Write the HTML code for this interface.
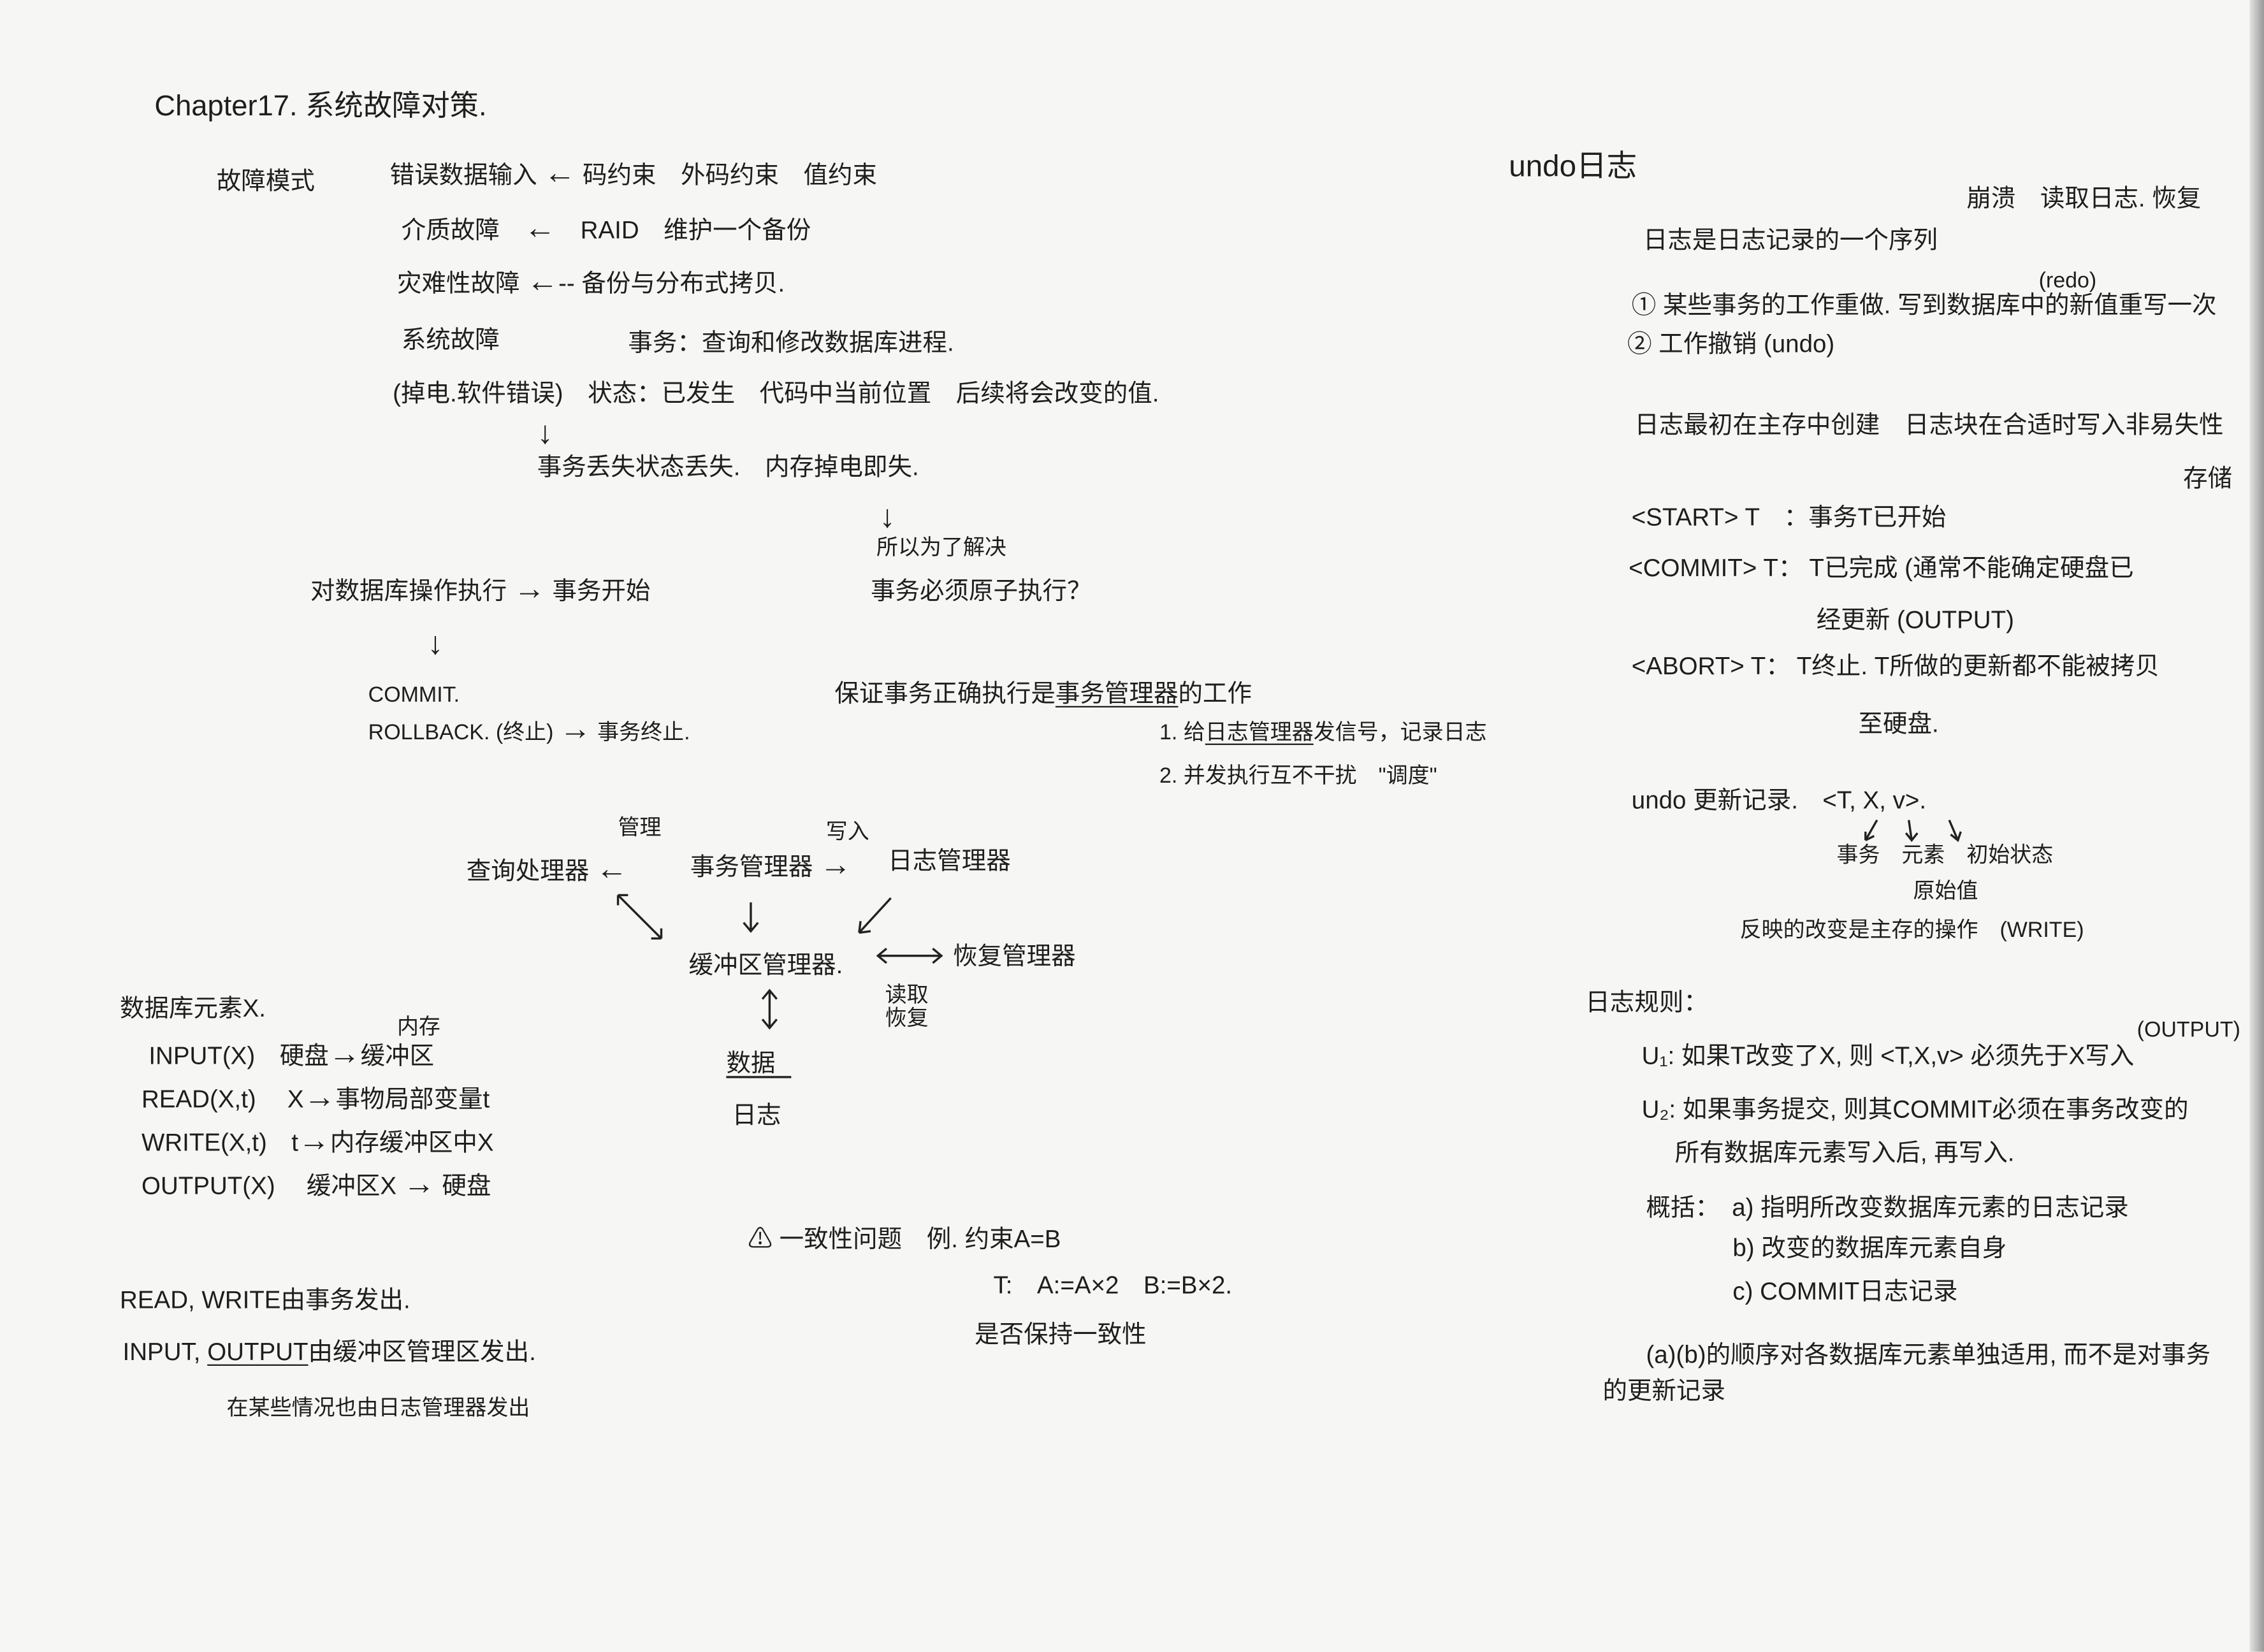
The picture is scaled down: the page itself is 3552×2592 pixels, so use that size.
<!DOCTYPE html>
<html><head><meta charset="utf-8">
<style>
html,body{margin:0;padding:0;background:#f6f6f4;}
#wrap{width:3552px;height:2592px;overflow:hidden;position:relative;background:#f6f6f4;}
#pg{position:absolute;left:0;top:0;width:1568px;height:1144px;transform:scale(2.2653);transform-origin:0 0;
font-family:"Liberation Sans","Noto Sans CJK SC",sans-serif;color:#1e1e1e;}
.t{position:absolute;white-space:nowrap;font-size:17px;line-height:1;}
.s{font-size:15px;}
.a{font-size:22px;line-height:0.7;}
.edge{position:absolute;left:1558px;top:0;width:10px;height:1144px;background:linear-gradient(90deg,#e4e4e2,#999);}
u{text-decoration:underline;text-underline-offset:3px;}
</style></head><body><div id="wrap"><div id="pg">
<div class="edge"></div>

<div class="t" style="left:107px;top:64px;font-size:20px">Chapter17. 系统故障对策.</div>
<div class="t" style="left:150px;top:117px">故障模式</div>
<div class="t" style="left:270px;top:112px">错误数据输入 <span class="a">←</span> 码约束　外码约束　值约束</div>
<div class="t" style="left:278px;top:150px">介质故障　<span class="a">←</span>　RAID　维护一个备份</div>
<div class="t" style="left:275px;top:187px">灾难性故障 <span class="a">←</span>-- 备份与分布式拷贝.</div>
<div class="t" style="left:278px;top:227px">系统故障</div>
<div class="t" style="left:435px;top:229px">事务：查询和修改数据库进程.</div>
<div class="t" style="left:272px;top:264px">(掉电.软件错误)　状态：已发生　代码中当前位置　后续将会改变的值.</div>
<div class="t a" style="left:372px;top:292px">↓</div>
<div class="t" style="left:372px;top:315px">事务丢失状态丢失.　内存掉电即失.</div>
<div class="t a" style="left:609px;top:350px">↓</div>
<div class="t s" style="left:607px;top:372px">所以为了解决</div>
<div class="t" style="left:603px;top:401px">事务必须原子执行？</div>
<div class="t" style="left:215px;top:400px">对数据库操作执行 <span class="a">→</span> 事务开始</div>
<div class="t a" style="left:296px;top:438px">↓</div>
<div class="t s" style="left:255px;top:474px">COMMIT.</div>
<div class="t s" style="left:255px;top:497px">ROLLBACK. (终止) <span class="a">→</span> 事务终止.</div>
<div class="t" style="left:578px;top:472px">保证事务正确执行是<u>事务管理器</u>的工作</div>
<div class="t s" style="left:803px;top:500px">1. 给<u>日志管理器</u>发信号，记录日志</div>
<div class="t s" style="left:803px;top:530px">2. 并发执行互不干扰　"调度"</div>

<div class="t s" style="left:428px;top:566px">管理</div>
<div class="t s" style="left:572px;top:569px">写入</div>
<div class="t" style="left:323px;top:594px">查询处理器 <span class="a">←</span></div>
<div class="t" style="left:478px;top:591px">事务管理器 <span class="a">→</span></div>
<div class="t" style="left:615px;top:588px">日志管理器</div>
<svg style="position:absolute;left:0;top:0" width="1568" height="1144">
<g stroke="#222" stroke-width="1.5" fill="none">
<line x1="428" y1="620" x2="458" y2="650"/><path d="M428 620 l0 7 M428 620 l7 0 M458 650 l-7 0 M458 650 l0 -7"/>
<line x1="520" y1="625" x2="520" y2="645"/><path d="M515 639 l5 6 5 -6"/>
<line x1="617" y1="622" x2="595" y2="646"/><path d="M595 646 l1 -8 M595 646 l8 -1"/>
<line x1="608" y1="662" x2="652" y2="662"/><path d="M614 657 l-6 5 6 5 M646 657 l6 5 -6 5"/>
<line x1="533" y1="686" x2="533" y2="712"/><path d="M528 692 l5 -6 5 6 M528 706 l5 6 5 -6"/>
<line x1="503" y1="746" x2="548" y2="746"/>
<path d="M1300 568 l-8 14 M1292 582 l0 -6 M1292 582 l6 -3"/>
<path d="M1322 568 l2 14 M1320 577 l4 5 4 -5"/>
<path d="M1350 568 l6 14 M1351 578 l5 4 2 -6"/>
</g></svg>
<div class="t" style="left:477px;top:660px">缓冲区管理器.</div>
<div class="t" style="left:660px;top:654px">恢复管理器</div>
<div class="t s" style="left:613px;top:682px">读取</div>
<div class="t s" style="left:613px;top:698px">恢复</div>
<div class="t" style="left:503px;top:728px">数据</div>
<div class="t" style="left:507px;top:764px">日志</div>

<div class="t" style="left:83px;top:690px">数据库元素X.</div>
<div class="t s" style="left:275px;top:704px">内存</div>
<div class="t" style="left:103px;top:722px">INPUT(X)　硬盘<span class="a">→</span>缓冲区</div>
<div class="t" style="left:98px;top:752px">READ(X,t)　 X<span class="a">→</span>事物局部变量t</div>
<div class="t" style="left:98px;top:782px">WRITE(X,t)　t<span class="a">→</span>内存缓冲区中X</div>
<div class="t" style="left:98px;top:812px">OUTPUT(X)　 缓冲区X <span class="a">→</span> 硬盘</div>
<div class="t" style="left:518px;top:850px">⚠ 一致性问题　例. 约束A=B</div>
<div class="t" style="left:688px;top:882px">T:　A:=A×2　B:=B×2.</div>
<div class="t" style="left:675px;top:916px">是否保持一致性</div>
<div class="t" style="left:83px;top:892px">READ, WRITE由事务发出.</div>
<div class="t" style="left:85px;top:928px">INPUT, <u>OUTPUT</u>由缓冲区管理区发出.</div>
<div class="t s" style="left:157px;top:968px">在某些情况也由日志管理器发出</div>

<div class="t" style="left:1045px;top:105px;font-size:21px">undo日志</div>
<div class="t" style="left:1362px;top:129px">崩溃　读取日志. 恢复</div>
<div class="t" style="left:1138px;top:158px">日志是日志记录的一个序列</div>
<div class="t s" style="left:1412px;top:187px">(redo)</div>
<div class="t" style="left:1130px;top:203px">① 某些事务的工作重做. 写到数据库中的新值重写一次</div>
<div class="t" style="left:1127px;top:230px">② 工作撤销 (undo)</div>
<div class="t" style="left:1132px;top:286px">日志最初在主存中创建　日志块在合适时写入非易失性</div>
<div class="t" style="left:1512px;top:323px">存储</div>
<div class="t" style="left:1130px;top:350px">&lt;START&gt; T　：事务T已开始</div>
<div class="t" style="left:1128px;top:385px">&lt;COMMIT&gt; T： T已完成 (通常不能确定硬盘已</div>
<div class="t" style="left:1258px;top:421px">经更新 (OUTPUT)</div>
<div class="t" style="left:1130px;top:453px">&lt;ABORT&gt; T： T终止. T所做的更新都不能被拷贝</div>
<div class="t" style="left:1287px;top:493px">至硬盘.</div>
<div class="t" style="left:1130px;top:546px">undo 更新记录.　&lt;T, X, v&gt;.</div>
<div class="t s" style="left:1272px;top:585px">事务　元素　初始状态</div>
<div class="t s" style="left:1325px;top:610px">原始值</div>
<div class="t s" style="left:1205px;top:637px">反映的改变是主存的操作　(WRITE)</div>
<div class="t" style="left:1098px;top:686px">日志规则：</div>
<div class="t s" style="left:1480px;top:706px">(OUTPUT)</div>
<div class="t" style="left:1137px;top:723px">U₁: 如果T改变了X, 则 &lt;T,X,v&gt; 必须先于X写入</div>
<div class="t" style="left:1137px;top:760px">U₂: 如果事务提交, 则其COMMIT必须在事务改变的</div>
<div class="t" style="left:1160px;top:790px">所有数据库元素写入后, 再写入.</div>
<div class="t" style="left:1140px;top:828px">概括：　a) 指明所改变数据库元素的日志记录</div>
<div class="t" style="left:1200px;top:856px">b) 改变的数据库元素自身</div>
<div class="t" style="left:1200px;top:886px">c) COMMIT日志记录</div>
<div class="t" style="left:1140px;top:930px">(a)(b)的顺序对各数据库元素单独适用, 而不是对事务</div>
<div class="t" style="left:1110px;top:955px">的更新记录</div>
</div></div></body></html>
